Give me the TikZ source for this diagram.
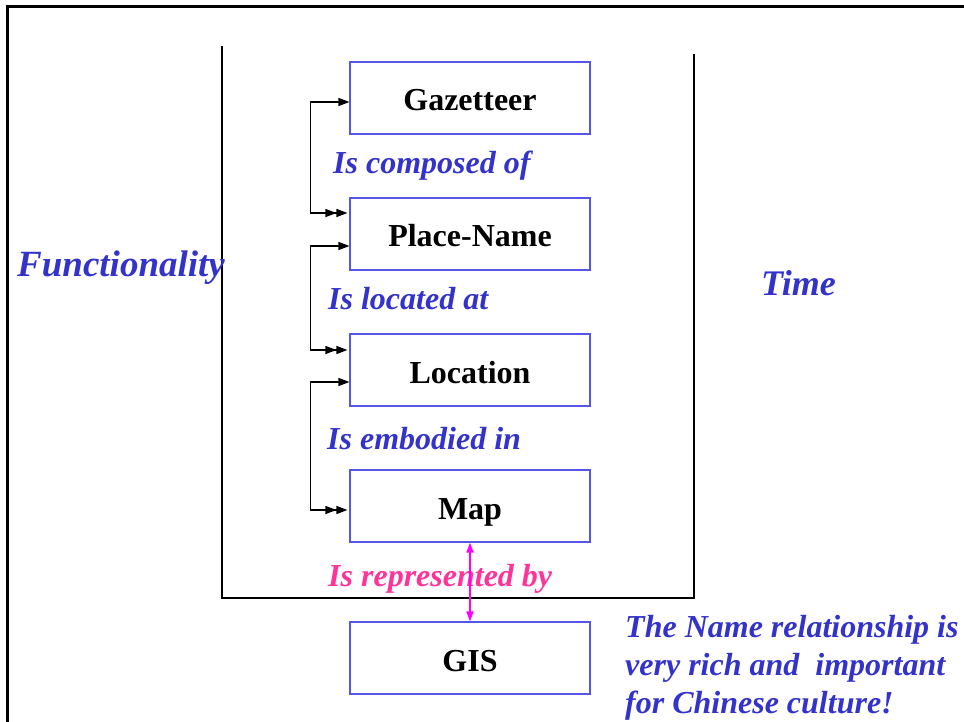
\documentclass[tikz,border=0pt]{standalone}
\usepackage{fontspec}
\setmainfont{Liberation Serif}
\usetikzlibrary{arrows.meta}
\definecolor{lblblue}{RGB}{51,51,204}
\definecolor{boxblue}{RGB}{85,85,230}
\definecolor{lblpink}{RGB}{255,51,153}
\definecolor{linkpink}{RGB}{255,0,255}
\tikzset{
  entity/.style={draw=boxblue, line width=1.1pt, minimum width=240pt, minimum height=72pt,
                 inner sep=0pt, text height=26pt, text depth=0pt,
                 font=\fontsize{32}{38}\selectfont\bfseries, text=black},
  rel/.style={anchor=west, inner sep=0pt, text=lblblue,
              font=\fontsize{32}{38}\selectfont\bfseries\itshape},
  axis/.style={anchor=west, inner sep=0pt, text=lblblue,
               font=\fontsize{37}{44}\selectfont\bfseries\itshape},
  conn/.style={line width=1.2pt, black,
               {Triangle[length=11pt,width=8pt,sep=2pt]Triangle[length=11pt,width=8pt]}-{Triangle[length=11pt,width=8pt]}},
}
\begin{document}
\begin{tikzpicture}[x=1pt, y=-1pt]
\useasboundingbox (0,0) rectangle (964,722);
% slide frame
\draw[line width=3pt] (7,730) -- (7,7) -- (970,7);
% enclosing bracket
\draw[line width=1.3pt] (222,46) -- (222,598) -- (694,598) -- (694,54);

% entity boxes
\node[entity] (gaz) at (470,98)  {Gazetteer};
\node[entity] (pn)  at (470,234) {Place-Name};
\node[entity] (loc) at (470,370) {Location};
\node[entity] (map) at (470,506) {Map};
\node[entity] (gis) at (470,658) {GIS};

% relation labels
\node[rel] (r1) at (333,166) {Is composed of};
\node[rel] (r2) at (328,299) {Is located at};
\node[rel] (r3) at (327,439) {Is embodied in};
\node[rel, text=lblpink] (r4) at (328,579) {Is represented by};

\node[axis] (fn) at (17,268) {Functionality};
\node[axis, font=\fontsize{36}{42}\selectfont\bfseries\itshape] (tm) at (761,283) {Time};

\node[anchor=north west, inner sep=0pt, text=lblblue, align=left,
      font=\fontsize{32}{38}\selectfont\bfseries\itshape] (note) at (625,615)
  {The Name relationship is\\very rich and\ \ important\\for Chinese culture!};

% relation connectors
\draw[conn] ([yshift=21pt]pn.west) -- ++(-39,0) |- ([yshift=-4pt]gaz.west);
\draw[conn] ([yshift=20pt]loc.west) -- ++(-39,0) |- ([yshift=-12pt]pn.west);
\draw[conn] ([yshift=-4pt]map.west) -- ++(-39,0) |- ([yshift=-12pt]loc.west);

% map to GIS
\draw[linkpink, line width=1.5pt, {Triangle[length=10pt,width=7pt]}-{Triangle[length=10pt,width=7pt]}]
  (map.south) -- (gis.north);
\end{tikzpicture}
\end{document}
